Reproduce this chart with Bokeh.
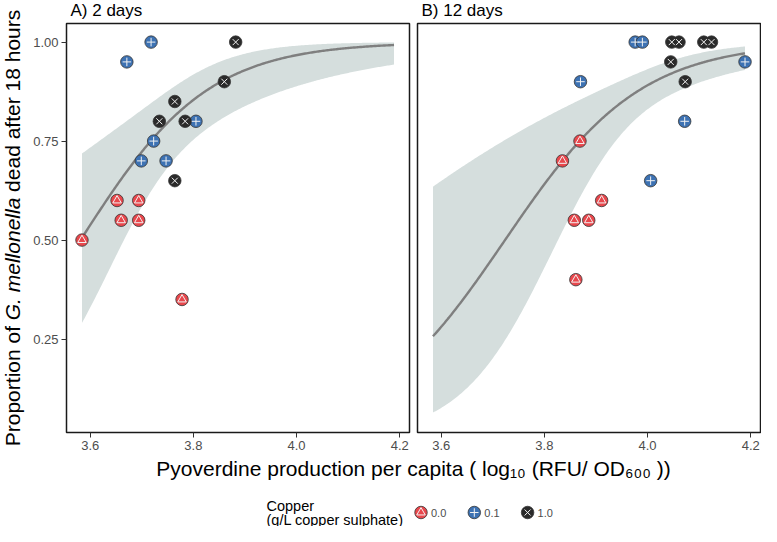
import numpy as np
from bokeh.plotting import figure
from bokeh.layouts import column, row
from bokeh.models import Range1d, Label, FixedTicker, NumeralTickFormatter, ColumnDataSource
from bokeh.core.properties import value
from bokeh.embed import file_html
from bokeh.resources import INLINE

FONT = "Liberation Sans"

# ---------------- data ----------------
copper_levels = ["0.0", "0.1", "1.0"]
copper_fill = ["#E8474C", "#3D72B3", "#2A2A2A"]
copper_symbol = ["triangle", "cross", "x"]

panel_titles = ["A) 2 days", "B) 12 days"]

# 2 days
d2_cu00_x = [3.584, 3.652, 3.660, 3.694, 3.694, 3.778]
d2_cu00_y = [0.50, 0.60, 0.55, 0.60, 0.55, 0.35]
d2_cu01_x = [3.718, 3.671, 3.723, 3.699, 3.747, 3.805]
d2_cu01_y = [1.00, 0.95, 0.75, 0.70, 0.70, 0.80]
d2_cu10_x = [3.882, 3.860, 3.764, 3.734, 3.784, 3.764]
d2_cu10_y = [1.00, 0.90, 0.85, 0.80, 0.80, 0.65]

# 12 days
d12_cu00_x = [3.835, 3.869, 3.911, 3.858, 3.886, 3.861]
d12_cu00_y = [0.70, 0.75, 0.60, 0.55, 0.55, 0.40]
d12_cu01_x = [3.976, 3.990, 4.189, 3.870, 4.072, 4.006]
d12_cu01_y = [1.00, 1.00, 0.95, 0.90, 0.80, 0.65]
d12_cu10_x = [4.047, 4.061, 4.109, 4.124, 4.045, 4.073]
d12_cu10_y = [1.00, 1.00, 1.00, 1.00, 0.95, 0.90]

# binomial (logit) fits, with CI half-width on logit scale
d2_fit_intercept, d2_fit_slope = -28.9, 8.07
d2_ci_min, d2_ci_growth, d2_ci_centre = 0.35, 20.0, 3.74
d12_fit_intercept, d12_fit_slope = -28.3, 7.6
d12_ci_min, d12_ci_growth, d12_ci_centre = 0.256, 15.0, 3.98

x_ticks = [3.6, 3.8, 4.0, 4.2]
y_ticks = [0.25, 0.50, 0.75, 1.00]

x_title = "Pyoverdine production per capita ( log\u2081\u2080 (RFU/ OD\u2086\u2080\u2080 ))"
y_title_parts = ["Proportion of", "G. mellonella", "dead after 18 hours"]
legend_title = ["Copper", "(g/L copper sulphate)"]

# ---------------- helpers ----------------
all_x = d2_cu00_x + d2_cu01_x + d2_cu10_x + d12_cu00_x + d12_cu01_x + d12_cu10_x
grid = np.linspace(min(all_x), max(all_x), 240)


def expit(z):
    return 1.0 / (1.0 + np.exp(-z))


def fit_curve(intercept, slope, ci_min, ci_growth, ci_centre):
    eta = intercept + slope * grid
    half = np.sqrt(ci_min + ci_growth * (grid - ci_centre) ** 2)
    return expit(eta), expit(eta - half), expit(eta + half)


# layout (pixels)
X_RANGE = (3.554, 4.219)
Y_RANGE = (0.014, 1.047)
YSTRIP_W = 26
TOP_H = 21
FR_W, FR_H = 343, 409
A_LEFT, A_RIGHT = 40, 4
B_LEFT, B_RIGHT = 4, 1
P_TOP, P_BOT = 2, 24
BOTTOM_H = 70
TICK_COL = "#333333"
LAB_COL = "#4D4D4D"

PANEL_H = P_TOP + FR_H + P_BOT
MAIN_W = (A_LEFT + FR_W + A_RIGHT) + (B_LEFT + FR_W + B_RIGHT)
TOTAL_H = TOP_H + PANEL_H + BOTTOM_H


def strip(width, height, x0, y0):
    s = figure(width=width, height=height, x_range=Range1d(x0, x0 + width),
               y_range=Range1d(y0 + height, y0), toolbar_location=None, output_backend="svg",
               min_border=0, x_axis_location=None, y_axis_location=None)
    s.outline_line_color = None
    s.background_fill_color = "white"
    s.border_fill_color = "white"
    s.grid.visible = False
    return s


def make_panel(groups, fit, left_border, right_border, with_y):
    p = figure(width=left_border + FR_W + right_border, height=PANEL_H,
               x_range=Range1d(*X_RANGE), y_range=Range1d(*Y_RANGE),
               title=None, toolbar_location=None, output_backend="svg",
               y_axis_location="left" if with_y else None,
               min_border_left=left_border, min_border_right=right_border,
               min_border_top=P_TOP, min_border_bottom=P_BOT)
    p.background_fill_color = "white"
    p.border_fill_color = "white"
    p.outline_line_color = "#1A1A1A"
    p.outline_line_width = 1.5
    p.grid.visible = False

    mid, lo, hi = fit
    p.varea(x=grid, y1=lo, y2=hi, fill_color="#D5DEDD", fill_alpha=1.0)
    p.line(x=grid, y=mid, line_color="#7F7F7F", line_width=2.4)

    xs, ys, cols, syms = [], [], [], []
    for (gx, gy), col, sym in zip(groups, copper_fill, copper_symbol):
        xs += gx
        ys += gy
        cols += [col] * len(gx)
        syms += [sym] * len(gx)
    src = ColumnDataSource(dict(x=xs, y=ys, fill=cols, sym=syms))
    p.scatter("x", "y", source=src, marker="circle", size=12.5,
              fill_color="fill", line_color="#333333", line_width=0.8)
    p.scatter("x", "y", source=src, marker="sym", size=8.5,
              fill_color=None, line_color="#F2F2F2", line_width=1.0)

    ax = p.xaxis[0]
    ax.ticker = FixedTicker(ticks=x_ticks)
    ax.formatter = NumeralTickFormatter(format="0.0")
    axes = [ax]
    if with_y:
        ay = p.yaxis[0]
        ay.ticker = FixedTicker(ticks=y_ticks)
        ay.formatter = NumeralTickFormatter(format="0.00")
        axes.append(ay)
    for a in axes:
        a.axis_line_color = None
        a.major_tick_line_color = TICK_COL
        a.major_tick_line_width = 1
        a.major_tick_out = 5
        a.major_tick_in = 0
        a.minor_tick_line_color = None
        a.major_label_text_font = FONT
        a.major_label_text_font_size = "13px"
        a.major_label_text_color = LAB_COL
        a.major_label_standoff = 3
    return p


fitA = fit_curve(d2_fit_intercept, d2_fit_slope, d2_ci_min, d2_ci_growth, d2_ci_centre)
fitB = fit_curve(d12_fit_intercept, d12_fit_slope, d12_ci_min, d12_ci_growth, d12_ci_centre)

pA = make_panel([(d2_cu00_x, d2_cu00_y), (d2_cu01_x, d2_cu01_y), (d2_cu10_x, d2_cu10_y)],
                fitA, A_LEFT, A_RIGHT, True)
pB = make_panel([(d12_cu00_x, d12_cu00_y), (d12_cu01_x, d12_cu01_y), (d12_cu10_x, d12_cu10_y)],
                fitB, B_LEFT, B_RIGHT, False)

# page-pixel positions of the frames
frameA_left = YSTRIP_W + A_LEFT
frameB_left = YSTRIP_W + A_LEFT + FR_W + A_RIGHT + B_LEFT
frame_top = TOP_H + P_TOP
frame_bottom = frame_top + FR_H

# ---------------- left strip: y-axis title ----------------
pY = strip(YSTRIP_W, TOTAL_H, 0, 0)
w1, sp, wi, w3 = 120.2, 5.8, 122.5, 182.1
total = w1 + sp + wi + sp + w3
yc = (frame_top + frame_bottom) / 2
start = yc + total / 2
ty = 12
pY.add_layout(Label(x=ty, y=start - w1, text=y_title_parts[0], angle=np.pi / 2,
                    text_align="right", text_baseline="middle", text_font=FONT,
                    text_font_size="21px", text_color="black"))
pY.add_layout(Label(x=ty, y=start - w1 - sp - wi / 2, text=y_title_parts[1], angle=np.pi / 2,
                    text_align="center", text_baseline="middle", text_font=FONT,
                    text_font_size="21px", text_font_style="italic", text_color="black"))
pY.add_layout(Label(x=ty, y=start - w1 - sp - wi - sp, text=y_title_parts[2], angle=np.pi / 2,
                    text_align="left", text_baseline="middle", text_font=FONT,
                    text_font_size="21px", text_color="black"))

# ---------------- top strip: panel titles ----------------
pT = strip(MAIN_W, TOP_H, YSTRIP_W, 0)
tsrc = ColumnDataSource(dict(x=[frameA_left + 4, frameB_left + 4], y=[10, 10], t=panel_titles))
pT.text("x", "y", text="t", source=tsrc, text_baseline="middle", text_align="left",
        text_font=value(FONT), text_font_size=value("17px"), text_color="black")

# ---------------- bottom strip: x title + legend ----------------
y0 = TOP_H + PANEL_H
pC = strip(MAIN_W, BOTTOM_H, YSTRIP_W, y0)
centre_x = (frameA_left + frameB_left + FR_W) / 2
pC.add_layout(Label(x=centre_x, y=frame_bottom + 36, text=x_title, text_align="center",
                    text_baseline="middle", text_font=FONT, text_font_size="21px",
                    text_color="black"))

leg_y = frame_bottom + 80
pC.add_layout(Label(x=centre_x - 147, y=leg_y - 7, text=legend_title[0], text_baseline="middle",
                    text_font=FONT, text_font_size="14.5px", text_color="black"))
pC.add_layout(Label(x=centre_x - 147, y=leg_y + 7, text=legend_title[1], text_baseline="middle",
                    text_font=FONT, text_font_size="14.5px", text_color="black"))

key_x = [centre_x + 7.5 + 53.3 * i for i in range(len(copper_levels))]
key_y = [leg_y] * len(copper_levels)
lsrc = ColumnDataSource(dict(x=key_x, y=key_y, fill=copper_fill, sym=copper_symbol,
                             lx=[k + 10 for k in key_x], lab=copper_levels))
pC.scatter("x", "y", source=lsrc, marker="circle", size=12.5, fill_color="fill",
           line_color="#333333", line_width=0.8)
pC.scatter("x", "y", source=lsrc, marker="sym", size=8.5, fill_color=None,
           line_color="#F2F2F2", line_width=1.0)
pC.text("lx", "y", text="lab", source=lsrc, text_baseline="middle", text_align="left",
        text_font=value(FONT), text_font_size=value("11px"), text_color=LAB_COL)

layout = row(pY, column(pT, row(pA, pB), pC))
open("out.html", "w").write(file_html(layout, INLINE))
